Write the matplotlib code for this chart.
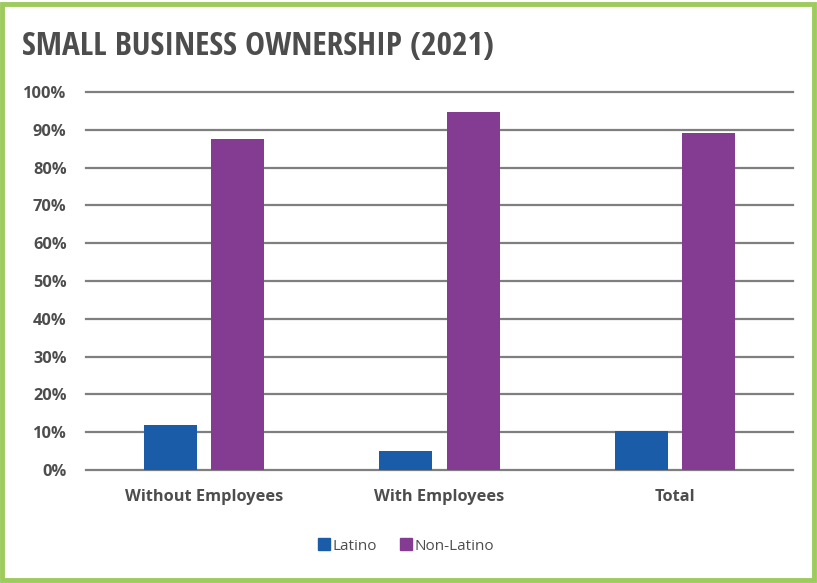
import matplotlib
matplotlib.use("Agg")
import matplotlib.pyplot as plt
from matplotlib.patches import Rectangle, Patch
import numpy as np

categories = ["Without Employees", "With Employees", "Total"]
latino = [12.0, 5.0, 10.3]
non_latino = [87.6, 94.7, 89.2]
y_ticks = [0, 10, 20, 30, 40, 50, 60, 70, 80, 90, 100]
y_tick_labels = [f"{v}%" for v in y_ticks]
title = "SMALL BUSINESS OWNERSHIP (2021)"

BLUE = "#1B5CA9"
PURPLE = "#833C91"
GREEN = "#9DCB5C"
TXT = "#4D4D4D"

fig = plt.figure(figsize=(8.17, 5.83), dpi=100)
ax = fig.add_axes([86/817, 1-470/583, (793-86)/817, (470-92)/583])

x = np.arange(len(categories))
w = 0.225
off = 0.1425
ax.bar(x - off, latino, width=w, color=BLUE, zorder=3, label="Latino")
ax.bar(x + off, non_latino, width=w, color=PURPLE, zorder=3, label="Non-Latino")

ax.set_xlim(-0.5, 2.5)
ax.set_ylim(0, 100)
ax.set_yticks(y_ticks)
ax.set_yticklabels(y_tick_labels)
for v in y_ticks:
    ax.axhline(v, color="#7F7F7F", lw=1.6, zorder=2, clip_on=False)
for s in ax.spines.values():
    s.set_visible(False)
ax.set_xticks(x)
ax.set_xticklabels(categories)
ax.tick_params(axis="both", length=0)
ax.tick_params(axis="y", pad=14)
ax.tick_params(axis="x", pad=14)
for lab in ax.get_yticklabels() + ax.get_xticklabels():
    lab.set_fontfamily("Open Sans")
    lab.set_fontweight("bold")
    lab.set_color(TXT)
    lab.set_fontsize(11.8)

fig.text(22/817, 1-47/583, title, fontsize=24, fontweight="bold",
         family=["Open Sans Condensed", "Liberation Sans Narrow", "DejaVu Sans"],
         color=TXT, va="center", ha="left")

handles = [Patch(color=BLUE, label="Latino"), Patch(color=PURPLE, label="Non-Latino")]
leg = fig.legend(handles=handles, loc="center", bbox_to_anchor=(406/817, 1-546/583),
                 ncol=2, frameon=False, handlelength=0.8, handleheight=0.8,
                 handletextpad=0.15, columnspacing=1.5,
                 prop={"family": "Open Sans", "size": 11})
for t in leg.get_texts():
    t.set_color(TXT)

fig.add_artist(Rectangle((2/817, 3/583), 1-5/817, 1-7/583, transform=fig.transFigure,
                         fill=False, edgecolor=GREEN, lw=3.5))

fig.savefig("out.png", dpi=100)
